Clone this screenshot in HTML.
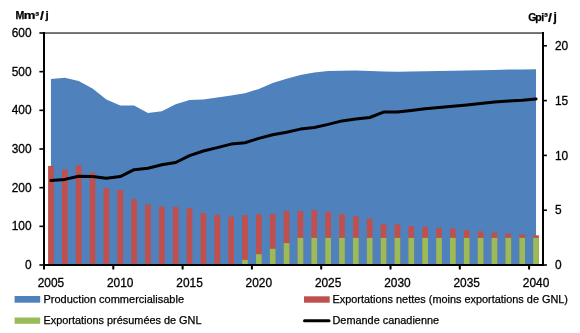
<!DOCTYPE html>
<html><head><meta charset="utf-8"><style>
html,body{margin:0;padding:0;background:#fff;width:580px;height:333px;overflow:hidden}
svg{display:block;will-change:transform}
.ax{font-family:"Liberation Sans",sans-serif;font-size:11.9px;fill:#000;stroke:#000;stroke-width:0.3px}
.lg{font-family:"Liberation Sans",sans-serif;font-size:10.9px;fill:#000;stroke:#000;stroke-width:0.25px}
.ti{font-family:"Liberation Sans",sans-serif;font-size:10.6px;font-weight:bold;fill:#000;stroke:#000;stroke-width:0.25px}
</style></head><body>
<svg width="580" height="333" viewBox="0 0 580 333">
<polygon points="50.93,264.0 50.93,79.00 64.79,77.80 78.65,81.00 92.51,88.50 106.37,99.50 120.23,105.40 134.09,105.40 147.95,113.00 161.81,111.20 175.67,104.30 189.53,100.10 203.39,99.50 217.25,97.40 231.11,95.60 244.97,93.30 258.83,88.90 272.69,83.10 286.55,78.80 300.41,75.00 314.27,72.60 328.13,71.00 341.99,70.70 355.85,70.60 369.71,71.00 383.57,71.50 397.43,71.70 411.29,71.50 425.15,71.20 439.01,71.00 452.87,70.80 466.73,70.50 480.59,70.20 494.45,69.90 508.31,69.60 522.17,69.40 536.03,69.20 536.03,264.0" fill="#4F81BD"/>
<rect x="48.08" y="165.90" width="5.7" height="98.10" fill="#C0504D"/>
<rect x="61.94" y="169.60" width="5.7" height="94.40" fill="#C0504D"/>
<rect x="75.80" y="165.00" width="5.7" height="99.00" fill="#C0504D"/>
<rect x="89.66" y="172.60" width="5.7" height="91.40" fill="#C0504D"/>
<rect x="103.52" y="188.30" width="5.7" height="75.70" fill="#C0504D"/>
<rect x="117.38" y="189.80" width="5.7" height="74.20" fill="#C0504D"/>
<rect x="131.24" y="199.20" width="5.7" height="64.80" fill="#C0504D"/>
<rect x="145.10" y="204.50" width="5.7" height="59.50" fill="#C0504D"/>
<rect x="158.96" y="206.50" width="5.7" height="57.50" fill="#C0504D"/>
<rect x="172.82" y="207.00" width="5.7" height="57.00" fill="#C0504D"/>
<rect x="186.68" y="208.30" width="5.7" height="55.70" fill="#C0504D"/>
<rect x="200.54" y="213.10" width="5.7" height="50.90" fill="#C0504D"/>
<rect x="214.40" y="214.90" width="5.7" height="49.10" fill="#C0504D"/>
<rect x="228.26" y="216.70" width="5.7" height="47.30" fill="#C0504D"/>
<rect x="242.12" y="215.20" width="5.7" height="48.80" fill="#C0504D"/>
<rect x="255.98" y="214.30" width="5.7" height="49.70" fill="#C0504D"/>
<rect x="269.84" y="213.80" width="5.7" height="50.20" fill="#C0504D"/>
<rect x="283.70" y="211.10" width="5.7" height="52.90" fill="#C0504D"/>
<rect x="297.56" y="211.10" width="5.7" height="52.90" fill="#C0504D"/>
<rect x="311.42" y="210.00" width="5.7" height="54.00" fill="#C0504D"/>
<rect x="325.28" y="211.70" width="5.7" height="52.30" fill="#C0504D"/>
<rect x="339.14" y="214.20" width="5.7" height="49.80" fill="#C0504D"/>
<rect x="353.00" y="216.20" width="5.7" height="47.80" fill="#C0504D"/>
<rect x="366.86" y="218.70" width="5.7" height="45.30" fill="#C0504D"/>
<rect x="380.72" y="224.10" width="5.7" height="39.90" fill="#C0504D"/>
<rect x="394.58" y="224.40" width="5.7" height="39.60" fill="#C0504D"/>
<rect x="408.44" y="226.00" width="5.7" height="38.00" fill="#C0504D"/>
<rect x="422.30" y="226.80" width="5.7" height="37.20" fill="#C0504D"/>
<rect x="436.16" y="227.90" width="5.7" height="36.10" fill="#C0504D"/>
<rect x="450.02" y="228.60" width="5.7" height="35.40" fill="#C0504D"/>
<rect x="463.88" y="230.10" width="5.7" height="33.90" fill="#C0504D"/>
<rect x="477.74" y="231.30" width="5.7" height="32.70" fill="#C0504D"/>
<rect x="491.60" y="232.40" width="5.7" height="31.60" fill="#C0504D"/>
<rect x="505.46" y="233.40" width="5.7" height="30.60" fill="#C0504D"/>
<rect x="519.32" y="234.50" width="5.7" height="29.50" fill="#C0504D"/>
<rect x="533.18" y="235.30" width="5.7" height="28.70" fill="#C0504D"/>
<rect x="242.12" y="259.90" width="5.7" height="4.10" fill="#9BBB59"/>
<rect x="255.98" y="254.20" width="5.7" height="9.80" fill="#9BBB59"/>
<rect x="269.84" y="248.80" width="5.7" height="15.20" fill="#9BBB59"/>
<rect x="283.70" y="243.10" width="5.7" height="20.90" fill="#9BBB59"/>
<rect x="297.56" y="237.90" width="5.7" height="26.10" fill="#9BBB59"/>
<rect x="311.42" y="237.90" width="5.7" height="26.10" fill="#9BBB59"/>
<rect x="325.28" y="237.90" width="5.7" height="26.10" fill="#9BBB59"/>
<rect x="339.14" y="237.90" width="5.7" height="26.10" fill="#9BBB59"/>
<rect x="353.00" y="237.90" width="5.7" height="26.10" fill="#9BBB59"/>
<rect x="366.86" y="237.90" width="5.7" height="26.10" fill="#9BBB59"/>
<rect x="380.72" y="237.90" width="5.7" height="26.10" fill="#9BBB59"/>
<rect x="394.58" y="237.90" width="5.7" height="26.10" fill="#9BBB59"/>
<rect x="408.44" y="237.90" width="5.7" height="26.10" fill="#9BBB59"/>
<rect x="422.30" y="237.90" width="5.7" height="26.10" fill="#9BBB59"/>
<rect x="436.16" y="237.90" width="5.7" height="26.10" fill="#9BBB59"/>
<rect x="450.02" y="237.90" width="5.7" height="26.10" fill="#9BBB59"/>
<rect x="463.88" y="237.90" width="5.7" height="26.10" fill="#9BBB59"/>
<rect x="477.74" y="237.90" width="5.7" height="26.10" fill="#9BBB59"/>
<rect x="491.60" y="237.90" width="5.7" height="26.10" fill="#9BBB59"/>
<rect x="505.46" y="237.90" width="5.7" height="26.10" fill="#9BBB59"/>
<rect x="519.32" y="237.90" width="5.7" height="26.10" fill="#9BBB59"/>
<rect x="533.18" y="237.90" width="5.7" height="26.10" fill="#9BBB59"/>
<polyline points="50.93,180.60 64.79,179.40 78.65,176.30 92.51,176.60 106.37,178.30 120.23,176.60 134.09,169.70 147.95,168.30 161.81,164.80 175.67,162.50 189.53,155.60 203.39,151.00 217.25,147.60 231.11,144.10 244.97,142.80 258.83,138.40 272.69,134.70 286.55,132.30 300.41,129.10 314.27,127.50 328.13,124.40 341.99,120.90 355.85,119.10 369.71,117.50 383.57,112.10 397.43,112.10 411.29,110.40 425.15,108.70 439.01,107.50 452.87,106.20 466.73,104.90 480.59,103.40 494.45,102.10 508.31,101.10 522.17,100.30 536.03,99.00" fill="none" stroke="#000" stroke-width="3" stroke-linejoin="round" stroke-linecap="round"/>
<rect x="43" y="32.2" width="500" height="1.7" fill="#5e5e5e"/>
<rect x="43" y="32" width="2" height="234" fill="#000"/>
<rect x="542" y="32" width="2" height="234" fill="#000"/>
<rect x="43" y="264" width="501" height="2" fill="#000"/>
<rect x="39.4" y="264.20" width="4.6" height="1.6" fill="#000"/>
<text x="31.5" y="269.10" text-anchor="end" class="ax">0</text>
<rect x="39.4" y="225.53" width="4.6" height="1.6" fill="#000"/>
<text x="31.5" y="230.43" text-anchor="end" class="ax">100</text>
<rect x="39.4" y="186.87" width="4.6" height="1.6" fill="#000"/>
<text x="31.5" y="191.77" text-anchor="end" class="ax">200</text>
<rect x="39.4" y="148.20" width="4.6" height="1.6" fill="#000"/>
<text x="31.5" y="153.10" text-anchor="end" class="ax">300</text>
<rect x="39.4" y="109.53" width="4.6" height="1.6" fill="#000"/>
<text x="31.5" y="114.43" text-anchor="end" class="ax">400</text>
<rect x="39.4" y="70.87" width="4.6" height="1.6" fill="#000"/>
<text x="31.5" y="75.77" text-anchor="end" class="ax">500</text>
<rect x="39.4" y="32.20" width="4.6" height="1.6" fill="#000"/>
<text x="31.5" y="37.10" text-anchor="end" class="ax">600</text>
<rect x="543" y="264.20" width="3.9" height="1.6" fill="#000"/>
<text x="555" y="269.20" class="ax">0</text>
<rect x="543" y="209.40" width="3.9" height="1.6" fill="#000"/>
<text x="555" y="214.40" class="ax">5</text>
<rect x="543" y="154.60" width="3.9" height="1.6" fill="#000"/>
<text x="555" y="159.60" class="ax">10</text>
<rect x="543" y="99.80" width="3.9" height="1.6" fill="#000"/>
<text x="555" y="104.80" class="ax">15</text>
<rect x="543" y="45.00" width="3.9" height="1.6" fill="#000"/>
<text x="555" y="50.00" class="ax">20</text>
<rect x="43.00" y="264" width="2" height="5.5" fill="#000"/>
<text x="50.93" y="287.2" text-anchor="middle" class="ax">2005</text>
<rect x="112.30" y="264" width="2" height="5.5" fill="#000"/>
<text x="120.23" y="287.2" text-anchor="middle" class="ax">2010</text>
<rect x="181.60" y="264" width="2" height="5.5" fill="#000"/>
<text x="189.53" y="287.2" text-anchor="middle" class="ax">2015</text>
<rect x="250.90" y="264" width="2" height="5.5" fill="#000"/>
<text x="258.83" y="287.2" text-anchor="middle" class="ax">2020</text>
<rect x="320.20" y="264" width="2" height="5.5" fill="#000"/>
<text x="328.13" y="287.2" text-anchor="middle" class="ax">2025</text>
<rect x="389.50" y="264" width="2" height="5.5" fill="#000"/>
<text x="397.43" y="287.2" text-anchor="middle" class="ax">2030</text>
<rect x="458.80" y="264" width="2" height="5.5" fill="#000"/>
<text x="466.73" y="287.2" text-anchor="middle" class="ax">2035</text>
<rect x="528.10" y="264" width="2" height="5.5" fill="#000"/>
<text x="536.03" y="287.2" text-anchor="middle" class="ax">2040</text>
<text x="15.5" y="18.7" class="ti">M</text>
<text transform="translate(23.7,18.7) scale(1.24,1)" class="ti">m</text>
<text x="35.2" y="19.5" class="ti" style="font-size:11.5px">³</text>
<text transform="translate(39.9,20.1) scale(1.15,1)" class="ti" style="font-size:12.2px">/</text>
<text x="45.6" y="18.7" class="ti" style="font-size:11.5px">j</text>
<text x="528.2" y="20.7" class="ti">G</text>
<text x="535.3" y="20.7" class="ti">p</text>
<text x="541.3" y="20.7" class="ti">i</text>
<text x="544" y="21" class="ti" style="font-size:11.5px">³</text>
<text transform="translate(548.1,22.3) scale(1.15,1)" class="ti" style="font-size:12.2px">/</text>
<text x="553.4" y="20.7" class="ti" style="font-size:12px">j</text>
<rect x="14.6" y="296" width="25.6" height="6.7" fill="#4F81BD"/>
<text x="43.5" y="302.9" class="lg" textLength="140.5" lengthAdjust="spacingAndGlyphs">Production commercialisable</text>
<rect x="14.6" y="317.5" width="25.6" height="6.3" fill="#9BBB59"/>
<text x="43.5" y="324" class="lg">Exportations présumées de GNL</text>
<rect x="304" y="296.3" width="25.7" height="6.4" fill="#C0504D"/>
<text x="332.5" y="302.9" class="lg" textLength="235.5" lengthAdjust="spacingAndGlyphs">Exportations nettes (moins exportations de GNL)</text>
<line x1="304.5" y1="320.8" x2="329" y2="320.8" stroke="#000" stroke-width="3" stroke-linecap="round"/>
<text x="332.5" y="323.8" class="lg">Demande canadienne</text>
</svg>
</body></html>
